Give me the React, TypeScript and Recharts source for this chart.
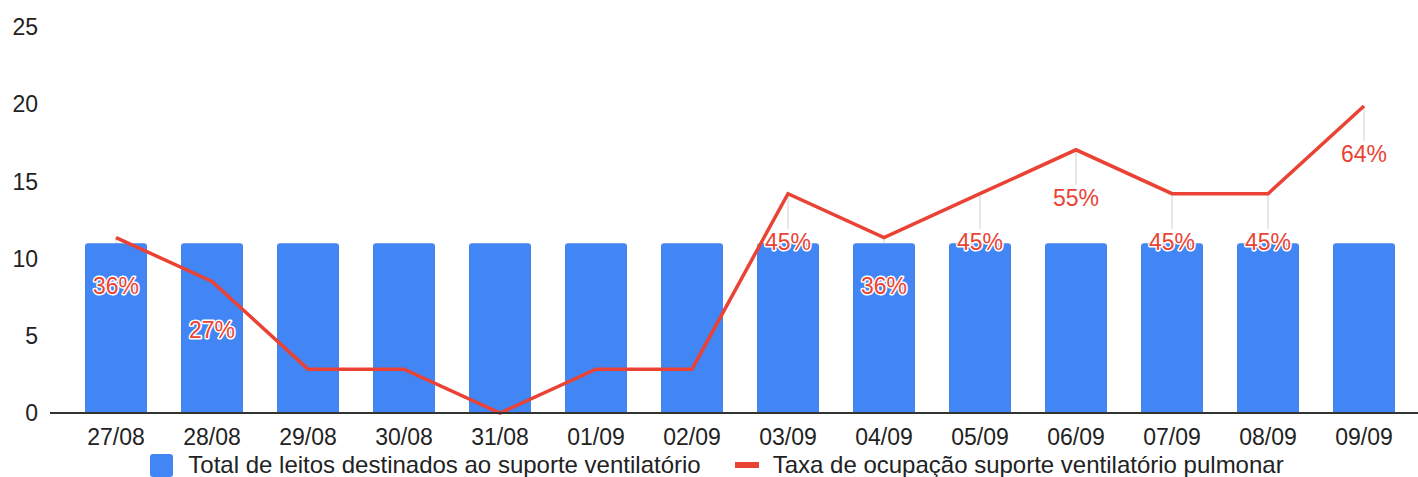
import {
    Bar,
    ComposedChart,
    Legend,
    LabelList,
    Line,
    XAxis,
    YAxis,
} from "recharts";

const dates = [
    "27/08", "28/08", "29/08", "30/08", "31/08", "01/09", "02/09",
    "03/09", "04/09", "05/09", "06/09", "07/09", "08/09", "09/09",
];

const totalBeds = [11, 11, 11, 11, 11, 11, 11, 11, 11, 11, 11, 11, 11, 11];

const occupancyRate = [
    0.3636, 0.2727, 0.0909, 0.0909, 0, 0.0909, 0.0909,
    0.4545, 0.3636, 0.4545, 0.5455, 0.4545, 0.4545, 0.6364,
];

const bedTicks = [0, 5, 10, 15, 20, 25];

const BEDS_MAX = 25;
const RATE_MAX = 0.8;
const LABEL_DROP = 48;
const MIN_LABELED_RATE = 0.2;

const BLUE = "#4285F4";
const RED = "#EA4335";
const FONT = "'Liberation Sans', Arial, sans-serif";

const data = dates.map((date, i) => ({
    date,
    beds: totalBeds[i],
    rate: occupancyRate[i],
}));

// bar with the grey annotation stem drawn behind it
function BedBar(props: any) {
    const { x, y, width, height, payload } = props;
    const unit = height / payload.beds;
    const base = y + height;
    const pointY = base - (payload.rate / RATE_MAX) * BEDS_MAX * unit;
    const cx = x + width / 2;
    const r = 3;

    return (
        <g>
            {payload.rate >= MIN_LABELED_RATE && (
                <line
                    x1={cx}
                    x2={cx}
                    y1={pointY}
                    y2={pointY + LABEL_DROP - 13}
                    stroke="#e0e0e0"
                    strokeWidth={1.5}
                />
            )}
            <path
                d={`M${x},${base} L${x},${y + r} Q${x},${y} ${x + r},${y}
                    L${x + width - r},${y} Q${x + width},${y} ${x + width},${y + r}
                    L${x + width},${base} Z`}
                fill={BLUE}
            />
        </g>
    );
}

function renderRateLabel(props: any) {
    const { x, y, value } = props;
    if (value < MIN_LABELED_RATE) return null;

    return (
        <text
            x={x}
            y={y + LABEL_DROP}
            dy="0.36em"
            textAnchor="middle"
            fill={RED}
            stroke="#fff"
            strokeWidth={3}
            strokeLinejoin="round"
            paintOrder="stroke"
            fontSize={23}
            fontFamily={FONT}
        >
            {Math.round(value * 100)}%
        </text>
    );
}

function ChartLegend() {
    return (
        <div
            style={{
                display: "flex",
                justifyContent: "center",
                alignItems: "center",
                height: 24,
                paddingLeft: 16,
                fontFamily: FONT,
                fontSize: 24,
                color: "#222",
                whiteSpace: "nowrap",
            }}
        >
            <span
                style={{
                    width: 23,
                    height: 23,
                    borderRadius: 3,
                    background: BLUE,
                    marginRight: 15,
                }}
            />
            <span>Total de leitos destinados ao suporte ventilatório</span>
            <span
                style={{
                    width: 24,
                    height: 6,
                    background: RED,
                    marginLeft: 34,
                    marginRight: 14,
                }}
            />
            <span>Taxa de ocupação suporte ventilatório pulmonar</span>
        </div>
    );
}

export default function App() {
    return (
        <div style={{ position: "absolute", left: 0, top: 0 }}>
            <ComposedChart
                width={1418}
                height={477}
                data={data}
                margin={{ top: 27, right: 0, bottom: 0, left: 0 }}
            >
                <XAxis
                    dataKey="date"
                    padding={{ left: 18, right: 6 }}
                    height={40}
                    tickLine={false}
                    tickSize={0}
                    tickMargin={16}
                    axisLine={{ stroke: "#333", strokeWidth: 2 }}
                    tick={{ fill: "#222", fontSize: 23, fontFamily: FONT }}
                    interval={0}
                />
                <YAxis
                    yAxisId="beds"
                    domain={[0, BEDS_MAX]}
                    ticks={bedTicks}
                    width={50}
                    axisLine={false}
                    tickLine={false}
                    tickSize={0}
                    tickMargin={12}
                    tick={{ fill: "#222", fontSize: 23, fontFamily: FONT }}
                />
                <YAxis
                    yAxisId="rate"
                    orientation="right"
                    domain={[0, RATE_MAX]}
                    hide
                />
                <Legend
                    verticalAlign="bottom"
                    content={() => <ChartLegend />}
                />
                <Bar
                    yAxisId="beds"
                    dataKey="beds"
                    barSize={62}
                    shape={BedBar}
                    isAnimationActive={false}
                />
                <Line
                    yAxisId="rate"
                    dataKey="rate"
                    type="linear"
                    stroke={RED}
                    strokeWidth={3.5}
                    dot={false}
                    activeDot={false}
                    isAnimationActive={false}
                >
                    <LabelList dataKey="rate" content={renderRateLabel} />
                </Line>
            </ComposedChart>
        </div>
    );
}
